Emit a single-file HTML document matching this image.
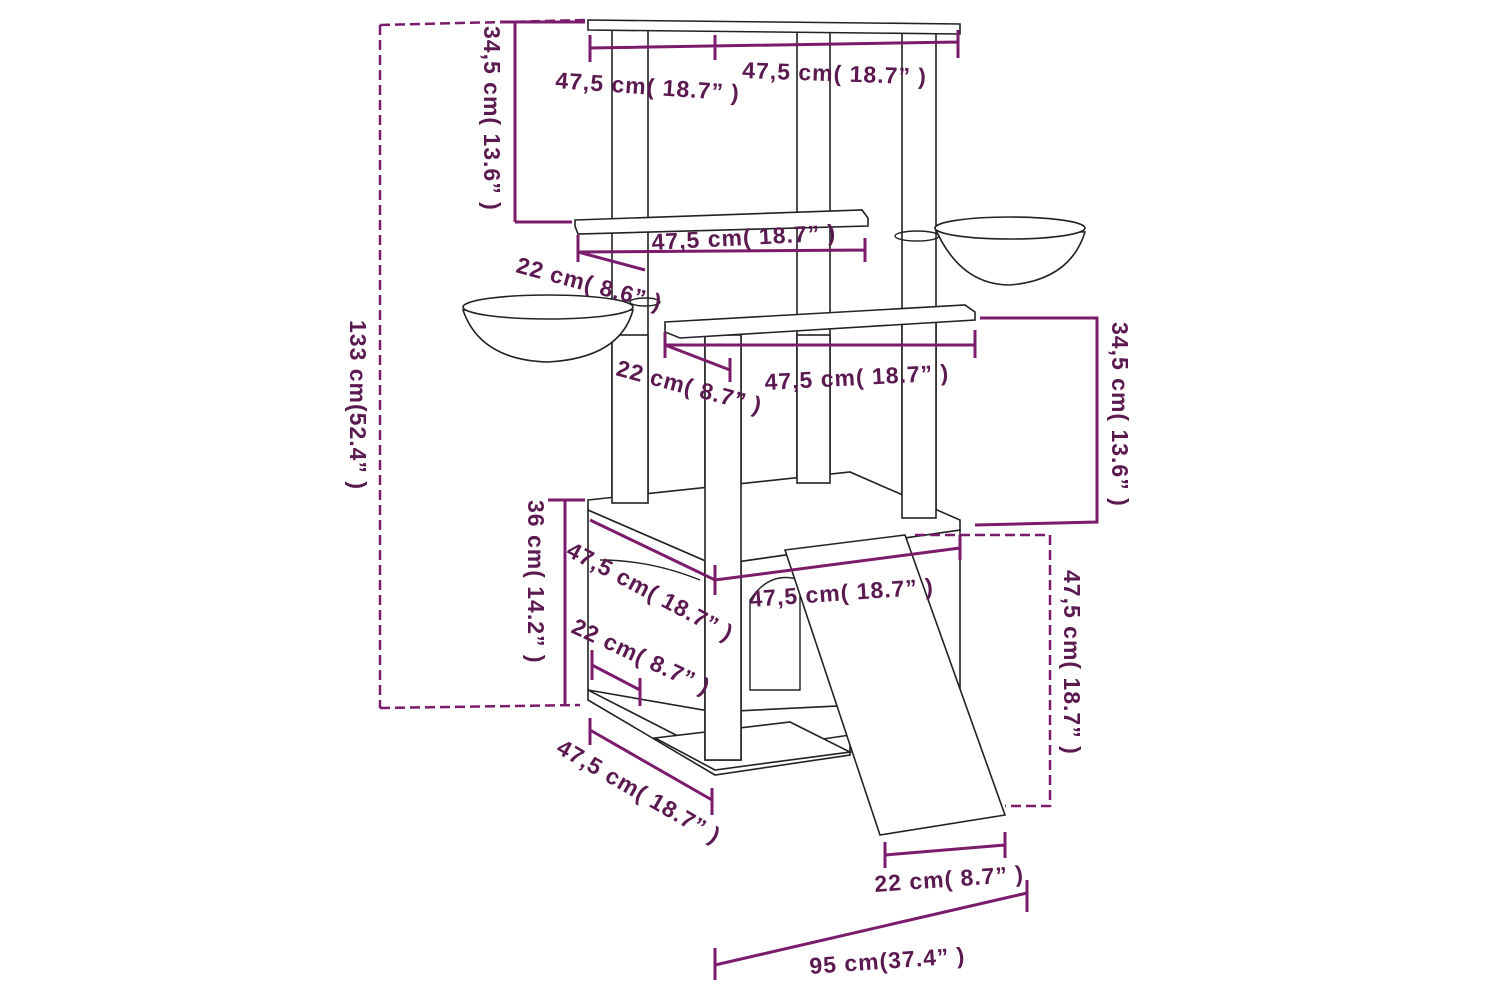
<!DOCTYPE html>
<html><head><meta charset="utf-8"><style>
html,body{margin:0;padding:0;background:#fff;width:1500px;height:1000px;overflow:hidden}
svg{display:block}
.t{font-family:"Liberation Sans",sans-serif;font-weight:bold;font-size:23px;letter-spacing:1px;fill:#5a1a50}
.d{stroke:#7b1b6c;stroke-width:3;fill:none}
.dd{stroke:#7b1b6c;stroke-width:2.5;fill:none;stroke-dasharray:10 5}
.k{stroke:#222;stroke-width:1.6;fill:#fff}
.kn{stroke:#222;stroke-width:1.4;fill:none}
</style></head><body>
<svg width="1500" height="1000" viewBox="0 0 1500 1000">
<polygon class="k" points="588,700 715,775 850,755 850,735 715,755 588,690"/>
<polygon class="k" points="655,738 715,770 850,752 790,722"/>
<polygon class="k" points="588,510 715,565 715,712 588,690"/>
<polygon class="k" points="715,565 960,530 960,700 715,712"/>
<path class="kn" d="M750,600 Q770,570 800,580 L800,690 L750,690 Z"/>
<path class="kn" d="M600,560 Q650,560 700,580"/>
<rect class="k" x="612" y="28" width="36" height="475"/>
<rect class="k" x="797" y="28" width="33" height="455"/>
<rect class="k" x="902" y="28" width="34" height="490"/>
<rect class="k" x="705" y="335" width="36" height="425"/>
<polygon class="k" points="588,20 960,24 960,34 588,30"/>
<polygon class="k" points="575,220 862,210 868,218 868,226 578,234 575,226"/>
<polygon class="k" points="588,500 850,472 960,520 960,530 715,565 588,510"/>
<rect class="k" x="612" y="335" width="36" height="168"/>
<rect class="k" x="797" y="335" width="33" height="148"/>
<rect class="k" x="902" y="318" width="34" height="200"/>
<rect class="k" x="705" y="335" width="36" height="425"/>
<polygon class="k" points="665,322 965,305 975,312 975,320 680,338 665,332"/>
<polygon class="k" points="785,550 905,535 1005,815 880,835"/>
<path class="k" d="M935,228 Q960,285 1010,285 Q1070,280 1085,232 Z"/>
<ellipse class="k" cx="1010" cy="228" rx="75" ry="11"/>
<ellipse class="kn" cx="917" cy="236" rx="22" ry="5"/>
<path class="k" d="M463,310 Q480,360 548,362 Q620,358 633,310 Z"/>
<ellipse class="k" cx="548" cy="307" rx="85" ry="12"/>
<ellipse class="kn" cx="645" cy="302" rx="15" ry="4"/>

<path class="dd" d="M380,25 L585,20 M380,25 L380,708 M380,708 L580,705"/>
<path class="d" d="M515,22 L515,222 M500,22 L585,22 M515,222 L572,222"/>
<path class="d" d="M590,48 L958,42 M590,35 L590,62 M715,35 L715,60 M958,30 L958,58"/>
<path class="d" d="M578,252 L865,250 M578,235 L578,262 M865,238 L865,262 M578,252 L645,270"/>
<path class="d" d="M665,345 L975,345 M665,332 L665,358 M975,330 L975,358 M665,345 L730,370 M730,358 L730,382"/>
<path class="d" d="M980,318 L1097,318 L1097,522 L975,525"/>
<path class="d" d="M565,500 L565,705 M548,500 L585,500"/>
<path class="d" d="M590,520 L715,580 L960,548 M715,565 L715,595 M960,535 L960,560"/>
<path class="dd" d="M915,535 L1050,535 M1050,535 L1050,806 L1005,806"/>
<path class="d" d="M592,665 L640,690 M592,650 L592,680 M640,678 L640,706"/>
<path class="d" d="M590,730 L712,800 M590,718 L590,745 M712,788 L712,815"/>
<path class="d" d="M885,855 L1005,845 M885,842 L885,868 M1005,832 L1005,858"/>
<path class="d" d="M715,965 L1027,893 M715,948 L715,980 M1027,880 L1027,912"/>

<text class="t" x="555" y="88" transform="rotate(4 555 88)">47,5 cm( 18.7” )</text>
<text class="t" x="742" y="78" transform="rotate(2 742 78)">47,5 cm( 18.7” )</text>
<text class="t" transform="translate(484,26) rotate(90)">34,5 cm( 13.6” )</text>
<text class="t" transform="translate(350,320) rotate(90)">133 cm(52.4” )</text>
<text class="t" x="652" y="250" transform="rotate(-3 652 250)">47,5 cm( 18.7” )</text>
<text class="t" x="515" y="272" transform="rotate(15 515 272)">22 cm( 8.6” )</text>
<text class="t" x="615" y="375" transform="rotate(15 615 375)">22 cm( 8.7” )</text>
<text class="t" x="765" y="390" transform="rotate(-3 765 390)">47,5 cm( 18.7” )</text>
<text class="t" transform="translate(1112,322) rotate(90)">34,5 cm( 13.6” )</text>
<text class="t" transform="translate(528,500) rotate(90)">36 cm( 14.2” )</text>
<text class="t" x="565" y="555" transform="rotate(28 565 555)">47,5 cm( 18.7” )</text>
<text class="t" x="750" y="607" transform="rotate(-4 750 607)">47,5 cm( 18.7” )</text>
<text class="t" transform="translate(1064,570) rotate(90)">47,5 cm( 18.7” )</text>
<text class="t" x="570" y="632" transform="rotate(25 570 632)">22 cm( 8.7” )</text>
<text class="t" x="555" y="752" transform="rotate(30 555 752)">47,5 cm( 18.7” )</text>
<text class="t" x="875" y="892" transform="rotate(-4 875 892)">22 cm( 8.7” )</text>
<text class="t" x="810" y="974" transform="rotate(-4 810 974)">95 cm(37.4” )</text>
</svg>
</body></html>
